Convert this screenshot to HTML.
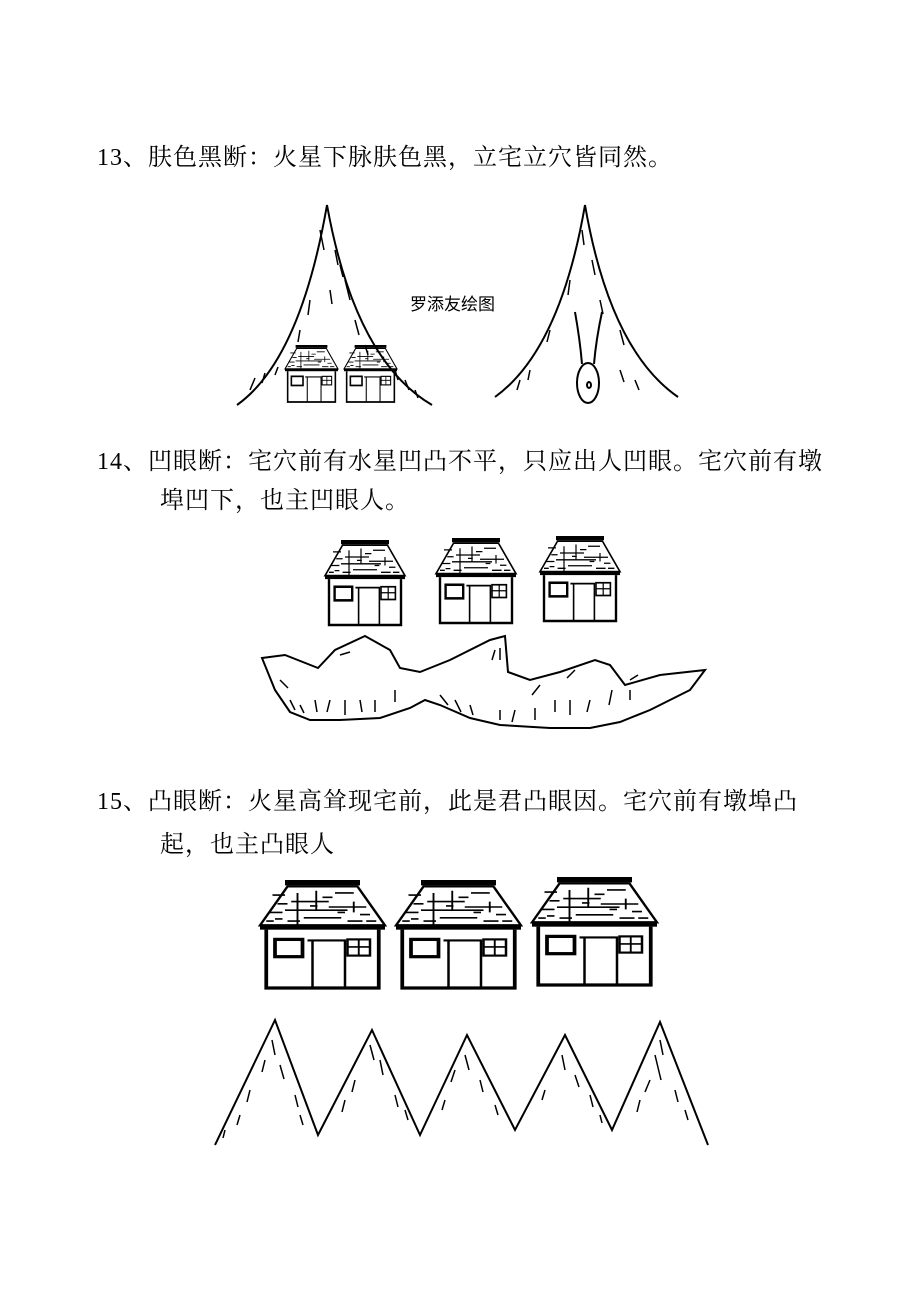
<!DOCTYPE html>
<html><head><meta charset="utf-8"><style>
html,body{margin:0;padding:0;background:#fff}
body{width:924px;height:1306px;position:relative;overflow:hidden;font-family:"Liberation Serif","Noto Serif CJK SC","Noto Sans CJK SC",serif;color:#000}
.t{position:absolute;font-size:24px;white-space:nowrap;line-height:1;letter-spacing:1px}
svg{position:absolute;left:0;top:0}
</style></head><body>
<div class="t" style="left:97px;top:146px">13、肤色黑断：火星下脉肤色黑，立宅立穴皆同然。</div>
<div class="t" style="left:97px;top:450px">14、凹眼断：宅穴前有水星凹凸不平，只应出人凹眼。宅穴前有墩</div>
<div class="t" style="left:160px;top:489px">埠凹下，也主凹眼人。</div>
<div class="t" style="left:97px;top:790px">15、凸眼断：火星高耸现宅前，此是君凸眼因。宅穴前有墩埠凸</div>
<div class="t" style="left:160px;top:833px">起，也主凸眼人</div>
<svg width="924" height="1306" viewBox="0 0 924 1306" fill="none" stroke="#000" stroke-width="2">
<defs>
<g id="h">
<rect x="20" y="0" width="60" height="5" fill="#000" stroke="none"/>
<path d="M22 6 L78 6 L100 42 L0 42 Z" stroke-width="2"/>
<rect x="0" y="41" width="100" height="5" fill="#000" stroke="none"/>
<path d="M10 14h10M30 12v30M25 20h30M45 10v18h25M20 28h30M35 35h30M55 25h30M60 12h15M8 30h10M75 20v10M22 38h10M14 22h8M50 16h8M80 32h8M70 38h12M12 36h6M62 30h6M40 24h6M85 38h8M5 38h6" stroke-width="1.5"/>
<path d="M5 46 V100 H95 V46" stroke-width="3"/>
<rect x="12" y="55" width="22" height="16" stroke-width="3"/>
<path d="M38 56 H68 V100 M42 56 V100" stroke-width="2"/>
<rect x="70" y="55" width="18" height="15" stroke-width="2"/>
<path d="M79 55v15M70 62h18" stroke-width="1.5"/>
</g>
</defs>
<!-- section 13 -->
<path d="M237 405 Q300 360 327 205 Q355 360 432 405"/>
<path d="M320 230l4 20M335 250l3 15M345 280l5 20M330 290l2 14M355 320l4 15M310 300l-2 15M300 330l-2 12M250 390l5-12M262 383l3-10M275 375l3-8M405 380l4 10M415 390l3 8M395 370l3 10M340 265l3 12M365 345l3 10" stroke-width="1.5"/>
<use href="#h" transform="translate(285,345) scale(0.53,0.57)"/>
<use href="#h" transform="translate(344,345) scale(0.53,0.57)"/>
<path d="M495 397 Q560 350 585 205 Q610 350 678 397"/>
<path d="M582 230l2 15M592 260l3 15M570 280l-2 15M600 300l3 14M550 330l-3 12M620 330l4 15M620 370l4 12M635 380l4 10M520 380l-3 10M530 370l-2 10" stroke-width="1.5"/>
<path d="M575 312 Q580 340 582 364 M602 312 Q596 340 594 364"/>
<ellipse cx="588" cy="383" rx="11" ry="20"/>
<ellipse cx="589" cy="385" rx="2" ry="3"/>
<text x="410" y="310" font-size="17" fill="#000" stroke="none" font-family="Liberation Sans, Noto Sans CJK SC, sans-serif">罗添友绘图</text>
<!-- section 14 -->
<use href="#h" transform="translate(325,540) scale(0.8,0.85)"/>
<use href="#h" transform="translate(436,538) scale(0.8,0.85)"/>
<use href="#h" transform="translate(540,536) scale(0.8,0.85)"/>
<path d="M262 658 L285 655 L318 668 L335 650 L365 636 L390 650 L400 668 L420 672 L450 660 L490 640 L505 636 L508 672 L530 680 L560 672 L595 660 L610 665 L625 685 L660 675 L705 670 L690 690 L650 710 L620 722 L590 728 L550 728 L500 725 L470 718 L440 705 L425 700 L410 708 L380 718 L340 720 L310 720 L290 712 L275 690 Z"/>
<path d="M280 680l8 8M290 700l5 10M300 705l4 8M315 700l2 12M330 700l-3 12M345 700v15M360 700l2 12M375 700v12M395 690v12M440 695l8 10M455 700l6 12M470 705l3 10M500 710v10M515 710l-3 12M535 708v12M555 700v12M570 700v15M590 700l-3 12M612 690l-3 15M630 690v10M630 680l8-5M540 685l-8 10M575 670l-8 8M495 650l-3 10M500 648v12M340 655l10-3" stroke-width="1.5"/>
<!-- section 15 -->
<use href="#h" transform="translate(260,880) scale(1.25,1.08)"/>
<use href="#h" transform="translate(396,880) scale(1.25,1.08)"/>
<use href="#h" transform="translate(532,877) scale(1.25,1.08)"/>
<path d="M215 1145 L275 1020 L318 1135 L372 1030 L420 1135 L467 1035 L515 1130 L565 1035 L612 1130 L660 1022 L708 1145"/>
<path d="M272 1040l3 15M265 1060l-3 12M280 1065l4 14M250 1090l-3 12M240 1115l-3 10M225 1130l-2 8M295 1095l3 12M300 1115l3 10M370 1045l4 15M380 1060l3 15M355 1080l-3 12M345 1100l-3 12M395 1095l3 12M405 1110l3 10M465 1055l4 15M455 1070l-4 12M480 1080l3 12M445 1100l-3 10M495 1105l3 10M562 1055l3 15M575 1075l4 12M545 1090l-3 10M590 1095l3 12M600 1115l2 8M660 1040l3 15M655 1055l6 25M650 1080l-5 12M675 1090l3 12M685 1110l3 10M640 1100l-3 12" stroke-width="1.5"/>
</svg>
</body></html>
